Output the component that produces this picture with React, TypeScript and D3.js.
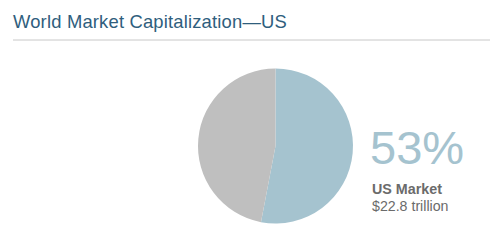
import React from "react";
import * as d3 from "d3";

const title = "World Market Capitalization—US";
const categories = ["US Market", "Rest of World"];
const shares = [53, 47];
const colors = ["#a5c3cf", "#bfbfbf"];
const headline = "53%";
const label = "US Market";
const sublabel = "$22.8 trillion";

export default function App() {
  const W = 500, H = 252;
  const cx = 275.5, cy = 146, r = 77.5;
  const pie = d3.pie<number>().sort(null).value((d) => d)(shares);
  const arc = d3.arc<d3.PieArcDatum<number>>().innerRadius(0).outerRadius(r);
  return (
    <svg width={W} height={H} style={{ position: "absolute", left: 0, top: 0, background: "#fff" }}
      fontFamily="Arial, 'Liberation Sans', sans-serif">
      <text x={13} y={28} fontSize={18.4} letterSpacing={0.18} fill="#2f5e7d">{title}</text>
      <line x1={13} x2={490} y1={40} y2={40} stroke="#c8c8c8" strokeWidth={1} />
      <g transform={`translate(${cx},${cy})`}>
        {pie.map((p, i) => (
          <path key={categories[i]} d={arc(p) || ""} fill={colors[i]} />
        ))}
      </g>
      <text x={370} y={164} fontSize={47} fill="#a5c3cf">{headline}</text>
      <text x={372} y={194} fontSize={14.3} fontWeight="bold" fill="#6b6b6b">{label}</text>
      <text x={372} y={211} fontSize={14.2} fill="#6b6b6b">{sublabel}</text>
    </svg>
  );
}
